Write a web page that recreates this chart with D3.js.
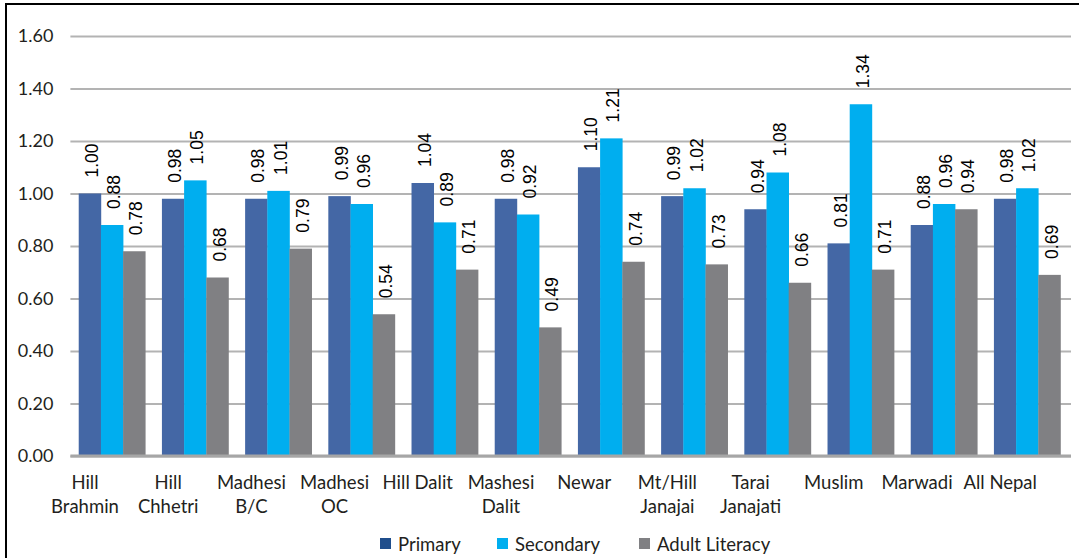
<!DOCTYPE html>
<html><head><meta charset="utf-8">
<script src="https://cdn.jsdelivr.net/npm/d3@7"></script>
<style>body{margin:0;background:#fff}svg{display:block}</style>
</head><body><svg id="c" width="1079" height="558"></svg>
<script>
const categories = [["Hill","Brahmin"],["Hill","Chhetri"],["Madhesi","B/C"],["Madhesi","OC"],["Hill Dalit"],["Mashesi","Dalit"],["Newar"],["Mt/Hill","Janajai"],["Tarai","Janajati"],["Muslim"],["Marwadi"],["All Nepal"]];
const primary   = [1.00,0.98,0.98,0.99,1.04,0.98,1.10,0.99,0.94,0.81,0.88,0.98];
const secondary = [0.88,1.05,1.01,0.96,0.89,0.92,1.21,1.02,1.08,1.34,0.96,1.02];
const adult     = [0.78,0.68,0.79,0.54,0.71,0.49,0.74,0.73,0.66,0.71,0.94,0.69];
const seriesNames = ["Primary","Secondary","Adult Literacy"];
const yTicks = [0,0.2,0.4,0.6,0.8,1.0,1.2,1.4,1.6];

const colors = ["#4467A5","#00AEEF","#808083"];
const legendColors = ["#1F4E8C","#00AEEF","#808083"];
const series = [primary, secondary, adult];
const uiFont = "Lato, 'Noto Sans', sans-serif";

const svg = d3.select("#c");
svg.append("rect").attr("x",6).attr("y",4).attr("width",1090).attr("height",580)
  .attr("fill","#fff").attr("stroke","#000").attr("stroke-width",2);

const pL=70.4, pR=1068.8, pT=36, pB=456;
const x = d3.scaleBand().domain(d3.range(categories.length)).range([pL,pR]).paddingInner(0.2).paddingOuter(0.1);
const y = d3.scaleLinear().domain([0,1.6]).range([pB,pT]);
const xs = d3.scaleBand().domain(d3.range(3)).range([0,x.bandwidth()]);

// grid
const yAxis = d3.axisLeft(y).tickValues(yTicks).tickFormat(d3.format(".2f")).tickSize(-(1071-pL)).tickPadding(18);
const ga = svg.append("g").attr("transform",`translate(${pL},0)`).call(yAxis);
ga.select(".domain").remove();
ga.selectAll(".tick line").attr("stroke","#b3b3b3").attr("stroke-width",2);
ga.selectAll(".tick text").attr("font-family",uiFont).attr("font-size",18).attr("fill","#231f20").attr("x",-17);

// bars
series.forEach((vals,si)=>{
  svg.append("g").selectAll("rect").data(vals).join("rect")
    .attr("x",(d,i)=>x(i)+xs(si)).attr("width",xs.bandwidth()+0.3)
    .attr("y",d=>y(d)).attr("height",d=>pB-y(d)).attr("fill",colors[si]);
});
// zero line
svg.append("line").attr("x1",pL).attr("x2",1071).attr("y1",y(0)).attr("y2",y(0)).attr("stroke","#a6a6a6").attr("stroke-width",3);

// labels
series.forEach((vals,si)=>{
  svg.append("g").selectAll("text").data(vals).join("text")
    .attr("transform",(d,i)=>`translate(${x(i)+xs(si)+xs.bandwidth()/2+2},${y(d)-16}) rotate(-90)`)
    .attr("dy","0.35em").attr("text-anchor","start")
    .attr("font-family","'Liberation Sans', Arial, sans-serif").attr("font-size",17.5).attr("fill","#000")
    .text(d=>d.toFixed(2));
});

// category labels
const cg = svg.append("g");
categories.forEach((lines,i)=>{
  const t = cg.append("text").attr("text-anchor","middle")
    .attr("font-family",uiFont).attr("font-size",18.5).attr("fill","#231f20");
  lines.forEach((l,k)=>t.append("tspan").attr("x",x(i)+x.bandwidth()/2-27).attr("y",489+k*24).text(l));
});

// legend
const lx=[380,497,639];
seriesNames.forEach((n,i)=>{
  svg.append("rect").attr("x",lx[i]).attr("y",538).attr("width",11).attr("height",11).attr("fill",legendColors[i]);
  svg.append("text").attr("x",lx[i]+18).attr("y",551).attr("font-family",uiFont)
    .attr("font-size",18.5).attr("fill","#231f20").text(n);
});
</script></body></html>
